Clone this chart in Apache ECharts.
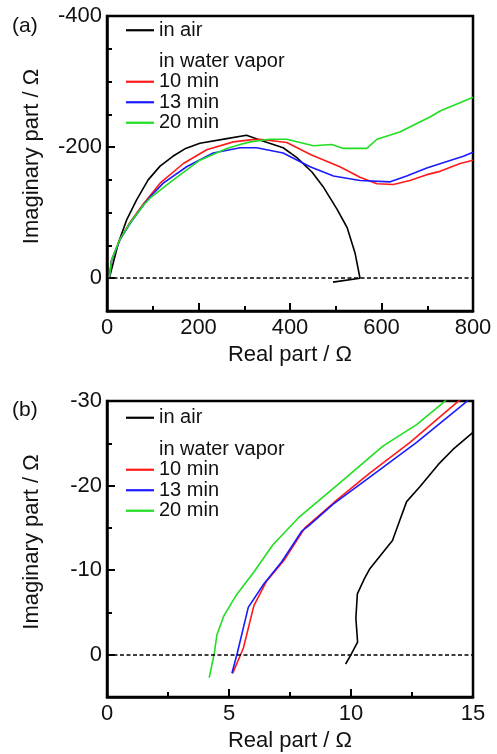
<!DOCTYPE html>
<html><head><meta charset="utf-8">
<script src="https://cdn.jsdelivr.net/npm/echarts@6/dist/echarts.min.js"></script>
<style>html,body{margin:0;padding:0;background:#fff}#c{width:497px;height:754px}</style>
</head><body><div id="c"></div>
<script>
// ---- data ----
const seriesNames = ['in air', '10 min', '13 min', '20 min'];
const legendHeader = 'in water vapor';
const panelLabels = ['(a)', '(b)'];
const xName = 'Real part / Ω';
const yName = 'Imaginary part / Ω';

// panel (a): [real, imaginary] in Ω
const aAir = [[5,0],[25,-54],[43,-89],[65,-120],[90,-150],[116,-171],[144,-186],[172,-198],[203,-206],[262,-213],[305,-218],[334,-211],[385,-199],[415,-184],[448,-162],[472,-140],[503,-105],[525,-77],[542,-39],[553,0],[494,6]];
const a10 = [[5,0],[10,-28],[28,-59],[50,-85],[79,-113],[116,-145],[167,-175],[218,-196],[276,-208],[313,-211],[334,-212],[393,-207],[447,-188],[509,-170],[553,-154],[590,-144],[626,-143],[662,-149],[699,-158],[728,-163],[772,-175],[800,-180]];
const a13 = [[5,0],[10,-27],[28,-58],[50,-83],[79,-111],[94,-124],[123,-145],[174,-170],[232,-191],[291,-199],[327,-199],[385,-191],[444,-170],[495,-156],[553,-149],[619,-147],[655,-156],[699,-168],[743,-178],[779,-186],[800,-192]];
const a20 = [[5,0],[10,-28],[28,-59],[50,-84],[79,-111],[94,-122],[145,-150],[203,-180],[262,-198],[291,-204],[313,-208],[356,-212],[393,-212],[451,-202],[491,-204],[517,-198],[568,-198],[590,-212],[640,-223],[677,-236],[706,-246],[728,-255],[786,-272],[800,-276]];

// panel (b)
const bAir = [[9.78,1.1],[10.0,0],[10.27,-1.5],[10.2,-4.3],[10.26,-7.2],[10.55,-9],[10.78,-10.2],[11.7,-13.5],[12.0,-15.9],[12.28,-18.1],[12.83,-19.9],[13.58,-22.5],[14.19,-24.3],[15,-26.3]];
const b10 = [[5.15,2.2],[5.59,-0.8],[6.02,-5.8],[6.54,-8.7],[7.29,-11.3],[8.11,-15],[9.3,-18],[10.78,-21.5],[12.42,-25.1],[14.33,-29.8],[14.5,-30.2]];
const b13 = [[5.12,2.2],[5.34,-0.2],[5.79,-5.6],[6.41,-8.3],[7.16,-11],[7.98,-14.6],[8.25,-15.2],[9.27,-17.8],[10.91,-21.3],[12.69,-25.1],[14.6,-29.6],[14.8,-30.1]];
const b20 = [[4.19,2.7],[4.4,-0.2],[4.5,-2.3],[4.79,-4.6],[5.31,-7.1],[6.0,-9.7],[6.8,-13],[7.85,-16.2],[9.41,-20],[11.32,-24.7],[12.69,-27.2],[13.78,-29.8],[13.9,-30.1]];

// axis ranges / ticks
const aX = {min: 0, max: 800, interval: 200};
const aY = {min: -400, max: 50, minor: 50, major: 200};
const bX = {min: 0, max: 15, interval: 5};
const bY = {min: -30, max: 5, minor: 5, major: 10};

const colors = ['#000000', '#ff1a1a', '#1a1aff', '#22dd22'];
const FONT = 'Liberation Sans, Arial, sans-serif';

const chart = echarts.init(document.getElementById('c'), null, {renderer: 'canvas'});

function xAxisDef(gi, r) {
  return {
    gridIndex: gi, type: 'value', min: r.min, max: r.max, interval: r.interval,
    axisLine: {onZero: false, lineStyle: {color: '#000', width: 2.5}},
    axisTick: {inside: true, length: 8, lineStyle: {color: '#000', width: 2}},
    minorTick: {show: true, splitNumber: 2, length: 5, lineStyle: {color: '#000', width: 2}},
    splitLine: {show: false},
    axisLabel: {color: '#111', fontSize: 22, fontFamily: FONT, margin: 6},
    name: xName, nameLocation: 'middle', nameGap: 33,
    nameTextStyle: {color: '#111', fontSize: 22, fontFamily: FONT}
  };
}
function yAxesDef(gi, r) {
  return [{
    gridIndex: gi, type: 'value', position: 'left', min: r.min, max: r.max, interval: r.minor, inverse: true,
    axisLine: {onZero: false, lineStyle: {color: '#000', width: 2.5}},
    axisTick: {inside: true, length: 5, lineStyle: {color: '#000', width: 2}},
    splitLine: {show: false},
    axisLabel: {color: '#111', fontSize: 22, fontFamily: FONT, margin: 5,
      formatter: v => (Math.round(v) % r.major === 0 ? String(v) : '')},
    name: yName, nameLocation: 'middle', nameGap: 64,
    nameTextStyle: {color: '#111', fontSize: 22, fontFamily: FONT, padding: [0, 0, 0, 14]}
  }, {
    gridIndex: gi, type: 'value', position: 'left', offset: 0, min: r.min, max: r.max, interval: r.major, inverse: true,
    axisLine: {show: false, onZero: false},
    axisTick: {inside: true, length: 8, lineStyle: {color: '#000', width: 2}},
    splitLine: {show: false},
    axisLabel: {show: false}
  }];
}

function lineSeries(name, data, xi, yi, color, withZero) {
  const s = {
    name: name, type: 'line', data: data, xAxisIndex: xi, yAxisIndex: yi,
    symbol: 'none', smooth: false, clip: true, animation: false,
    lineStyle: {color: color, width: 1.6}, itemStyle: {color: color}
  };
  if (withZero) {
    s.markLine = {
      silent: true, symbol: ['none', 'none'], label: {show: false}, animation: false,
      lineStyle: {type: [4, 2.5], color: '#000', width: 1.5},
      data: [{yAxis: 0}]
    };
  }
  return s;
}

function legends(topAir, topRest) {
  const common = {
    orient: 'vertical', left: 126, itemWidth: 28, itemHeight: 2.2, itemGap: 0,
    selectedMode: false, padding: 0, icon: 'rect',
    textStyle: {color: '#111', fontSize: 20, fontFamily: FONT, lineHeight: 20.5}
  };
  return [
    Object.assign({}, common, {top: topAir, data: [seriesNames[0]]}),
    Object.assign({}, common, {top: topRest, data: [{name: legendHeader, icon: 'none'}, seriesNames[1], seriesNames[2], seriesNames[3]]})
  ];
}

const aData = [aAir, a10, a13, a20];
const bData = [bAir, b10, b13, b20];
const series = [];
aData.forEach((d, i) => series.push(lineSeries(seriesNames[i], d, 0, 0, colors[i], i === 0)));
bData.forEach((d, i) => series.push(lineSeries(seriesNames[i], d, 1, 2, colors[i], i === 0)));
series.push({name: legendHeader, type: 'line', data: [], xAxisIndex: 0, yAxisIndex: 0, symbol: 'none',
  lineStyle: {opacity: 0}, itemStyle: {opacity: 0}});

const option = {
  animation: false,
  backgroundColor: '#fff',
  textStyle: {fontFamily: FONT},
  grid: [
    {left: 107, top: 16, width: 366, height: 295, show: true, borderColor: '#000', borderWidth: 2.5, containLabel: false},
    {left: 107, top: 401, width: 366, height: 296, show: true, borderColor: '#000', borderWidth: 2.5, containLabel: false}
  ],
  xAxis: [xAxisDef(0, aX), xAxisDef(1, bX)],
  yAxis: yAxesDef(0, aY).concat(yAxesDef(1, bY)),
  legend: legends(20, 51).concat(legends(407.5, 439)),
  graphic: [
    {type: 'text', left: 12, top: 16, style: {text: panelLabels[0], fontSize: 21, fontFamily: FONT, fill: '#111'}},
    {type: 'text', left: 12, top: 400, style: {text: panelLabels[1], fontSize: 21, fontFamily: FONT, fill: '#111'}}
  ],
  series: series
};
chart.setOption(option);
</script>
</body></html>
